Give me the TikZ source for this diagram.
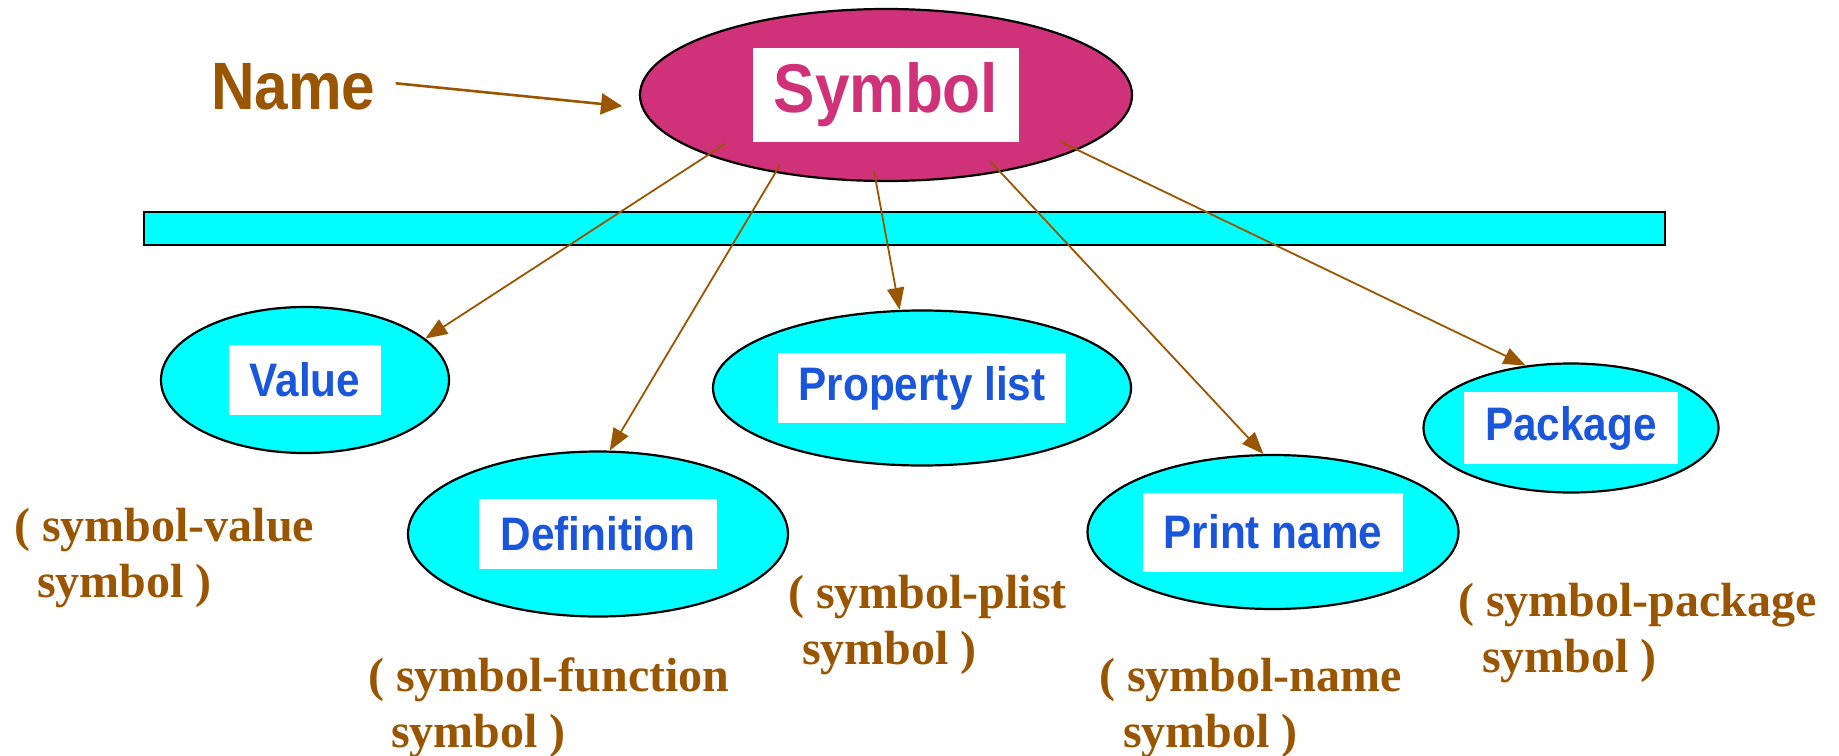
\documentclass[tikz,border=0pt]{standalone}
\usepackage{fontspec}
\usetikzlibrary{shapes.geometric,arrows.meta}
\newfontfamily\hsans[FakeStretch=0.9]{Liberation Sans}
\newfontfamily\hserif{Liberation Serif}
\definecolor{symred}{RGB}{208,50,121}
\definecolor{tagblue}{RGB}{26,86,219}
\definecolor{callbrown}{RGB}{153,85,0}
\definecolor{slotcyan}{RGB}{0,255,255}
\begin{document}
\begin{tikzpicture}[x=1pt, y=-1pt,
      slot/.style={shape=ellipse, draw, fill=slotcyan, line width=2.2pt, inner sep=0pt},
      tag/.style={fill=white, inner xsep=21pt, minimum height=70pt, text=tagblue,
        font=\hsans\bfseries\fontsize{47}{47}\selectfont},
      call/.style={anchor=north west, inner sep=0pt, align=left, text=callbrown,
        font=\hserif\bfseries\fontsize{48}{56}\selectfont},
      link/.style={draw=callbrown, line width=1.8pt, -{Triangle[length=22pt,width=17pt]}}]
    \useasboundingbox (0,0) rectangle (1839,755);
    % the bar
    \node[draw, fill=slotcyan, line width=2pt, minimum width=1521pt, minimum height=33pt] (bar) at (904.5,228.5) {};
    % symbol
    \node[slot, fill=symred, minimum width=492pt, minimum height=172pt] (symE) at (886,95) {};
    \node[tag, text=symred, minimum height=94pt, font=\hsans\bfseries\fontsize{69}{69}\selectfont] (sym) at (symE) {Symbol};
    \node[anchor=base west, inner sep=0pt, text=callbrown, font=\hsans\bfseries\fontsize{67}{67}\selectfont] (name) at (211,109) {Name};
    % the five cells
    \node[slot, minimum width=288pt, minimum height=146pt] (valE) at (305,380) {};
    \node[tag] (val) at (valE) {Value};
    \node[slot, minimum width=380pt, minimum height=165pt] (defE) at (598,534) {};
    \node[tag] (def) at (defE) {Definition};
    \node[slot, minimum width=418pt, minimum height=155pt] (plistE) at (922,388) {};
    \node[tag] (plist) at (plistE) {Property list};
    \node[slot, minimum width=371pt, minimum height=154pt] (pnameE) at (1273,532) {};
    \node[tag, minimum height=79pt] (pname) at (pnameE) {Print name};
    \node[slot, minimum width=295pt, minimum height=129pt] (pkgE) at (1571,428) {};
    \node[tag, minimum height=72pt] (pkg) at (pkgE) {Package};
    % accessors
    \node[call] (valcall) at (14,508) {( symbol-value\\\hspace*{23pt}symbol )};
    \node[call] (defcall) at (368,657) {( symbol-function\\\hspace*{23pt}symbol )};
    \node[call] (plistcall) at (788,575) {( symbol-plist\\\hspace*{14pt}symbol )};
    \node[call] (pnamecall) at (1099,658) {( symbol-name\\\hspace*{24pt}symbol )};
    \node[call] (pkgcall) at (1458,583) {( symbol-package\\\hspace*{24pt}symbol )};
    % arrows
    \coordinate (nametip) at (622,106);
    \coordinate (toval) at (725,144);
    \coordinate (todef) at (780,165);
    \coordinate (toplist) at (874,171);
    \coordinate (topname) at (991,162);
    \coordinate (topkg) at (1061,142);
    \draw[link, line width=2.6pt, -{Triangle[length=21pt,width=21pt]}] ([xshift=20pt,yshift=3pt]name.east) -- (nametip);
    \draw[link] (toval) -- (valE.19);
    \draw[link] (todef) -- (defE.82);
    \draw[link] (toplist) -- (plistE.106);
    \draw[link] (topname) -- (pnameE.97);
    \draw[link] (topkg) -- (pkgE.126);
\end{tikzpicture}
\end{document}
